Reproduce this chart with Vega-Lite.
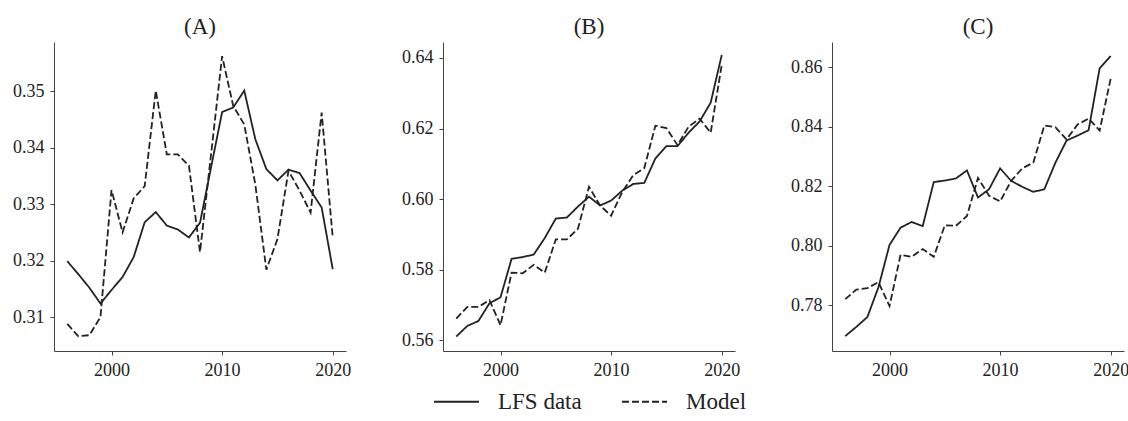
{
  "$schema": "https://vega.github.io/schema/vega-lite/v6.json",
  "padding": {"left": 12, "top": 16, "right": 5, "bottom": 5},
  "bounds": "flush",
  "spacing": 97,
  "data": {"values": [
    {"p":"A","year":1996,"s":"LFS data","v":0.3199},{"p":"A","year":1997,"s":"LFS data","v":0.3176},{"p":"A","year":1998,"s":"LFS data","v":0.3152},{"p":"A","year":1999,"s":"LFS data","v":0.3124},{"p":"A","year":2000,"s":"LFS data","v":0.3148},{"p":"A","year":2001,"s":"LFS data","v":0.3171},{"p":"A","year":2002,"s":"LFS data","v":0.3206},{"p":"A","year":2003,"s":"LFS data","v":0.3268},{"p":"A","year":2004,"s":"LFS data","v":0.3286},{"p":"A","year":2005,"s":"LFS data","v":0.3262},{"p":"A","year":2006,"s":"LFS data","v":0.3255},{"p":"A","year":2007,"s":"LFS data","v":0.3241},{"p":"A","year":2008,"s":"LFS data","v":0.3267},{"p":"A","year":2009,"s":"LFS data","v":0.3365},{"p":"A","year":2010,"s":"LFS data","v":0.3463},{"p":"A","year":2011,"s":"LFS data","v":0.3471},{"p":"A","year":2012,"s":"LFS data","v":0.3501},{"p":"A","year":2013,"s":"LFS data","v":0.3415},{"p":"A","year":2014,"s":"LFS data","v":0.3362},{"p":"A","year":2015,"s":"LFS data","v":0.3342},{"p":"A","year":2016,"s":"LFS data","v":0.3361},{"p":"A","year":2017,"s":"LFS data","v":0.3355},{"p":"A","year":2018,"s":"LFS data","v":0.3324},{"p":"A","year":2019,"s":"LFS data","v":0.3294},{"p":"A","year":2020,"s":"LFS data","v":0.3185},
    {"p":"A","year":1996,"s":"Model","v":0.3088},{"p":"A","year":1997,"s":"Model","v":0.3066},{"p":"A","year":1998,"s":"Model","v":0.3068},{"p":"A","year":1999,"s":"Model","v":0.3100},{"p":"A","year":2000,"s":"Model","v":0.3325},{"p":"A","year":2001,"s":"Model","v":0.3250},{"p":"A","year":2002,"s":"Model","v":0.3310},{"p":"A","year":2003,"s":"Model","v":0.3332},{"p":"A","year":2004,"s":"Model","v":0.3501},{"p":"A","year":2005,"s":"Model","v":0.3388},{"p":"A","year":2006,"s":"Model","v":0.3388},{"p":"A","year":2007,"s":"Model","v":0.3368},{"p":"A","year":2008,"s":"Model","v":0.3215},{"p":"A","year":2009,"s":"Model","v":0.3388},{"p":"A","year":2010,"s":"Model","v":0.3562},{"p":"A","year":2011,"s":"Model","v":0.3474},{"p":"A","year":2012,"s":"Model","v":0.3441},{"p":"A","year":2013,"s":"Model","v":0.3335},{"p":"A","year":2014,"s":"Model","v":0.3184},{"p":"A","year":2015,"s":"Model","v":0.3238},{"p":"A","year":2016,"s":"Model","v":0.3359},{"p":"A","year":2017,"s":"Model","v":0.3324},{"p":"A","year":2018,"s":"Model","v":0.3285},{"p":"A","year":2019,"s":"Model","v":0.3462},{"p":"A","year":2020,"s":"Model","v":0.3241},
    {"p":"B","year":1996,"s":"LFS data","v":0.5611},{"p":"B","year":1997,"s":"LFS data","v":0.5641},{"p":"B","year":1998,"s":"LFS data","v":0.5655},{"p":"B","year":1999,"s":"LFS data","v":0.5705},{"p":"B","year":2000,"s":"LFS data","v":0.5722},{"p":"B","year":2001,"s":"LFS data","v":0.5831},{"p":"B","year":2002,"s":"LFS data","v":0.5836},{"p":"B","year":2003,"s":"LFS data","v":0.5843},{"p":"B","year":2004,"s":"LFS data","v":0.5890},{"p":"B","year":2005,"s":"LFS data","v":0.5945},{"p":"B","year":2006,"s":"LFS data","v":0.5948},{"p":"B","year":2007,"s":"LFS data","v":0.5979},{"p":"B","year":2008,"s":"LFS data","v":0.6007},{"p":"B","year":2009,"s":"LFS data","v":0.5982},{"p":"B","year":2010,"s":"LFS data","v":0.5996},{"p":"B","year":2011,"s":"LFS data","v":0.6024},{"p":"B","year":2012,"s":"LFS data","v":0.6043},{"p":"B","year":2013,"s":"LFS data","v":0.6046},{"p":"B","year":2014,"s":"LFS data","v":0.6115},{"p":"B","year":2015,"s":"LFS data","v":0.6150},{"p":"B","year":2016,"s":"LFS data","v":0.6150},{"p":"B","year":2017,"s":"LFS data","v":0.6188},{"p":"B","year":2018,"s":"LFS data","v":0.6220},{"p":"B","year":2019,"s":"LFS data","v":0.6273},{"p":"B","year":2020,"s":"LFS data","v":0.6408},
    {"p":"B","year":1996,"s":"Model","v":0.5662},{"p":"B","year":1997,"s":"Model","v":0.5695},{"p":"B","year":1998,"s":"Model","v":0.5695},{"p":"B","year":1999,"s":"Model","v":0.5714},{"p":"B","year":2000,"s":"Model","v":0.5643},{"p":"B","year":2001,"s":"Model","v":0.5792},{"p":"B","year":2002,"s":"Model","v":0.5790},{"p":"B","year":2003,"s":"Model","v":0.5814},{"p":"B","year":2004,"s":"Model","v":0.5792},{"p":"B","year":2005,"s":"Model","v":0.5886},{"p":"B","year":2006,"s":"Model","v":0.5886},{"p":"B","year":2007,"s":"Model","v":0.5916},{"p":"B","year":2008,"s":"Model","v":0.6035},{"p":"B","year":2009,"s":"Model","v":0.5982},{"p":"B","year":2010,"s":"Model","v":0.5953},{"p":"B","year":2011,"s":"Model","v":0.6020},{"p":"B","year":2012,"s":"Model","v":0.6068},{"p":"B","year":2013,"s":"Model","v":0.6088},{"p":"B","year":2014,"s":"Model","v":0.6208},{"p":"B","year":2015,"s":"Model","v":0.6201},{"p":"B","year":2016,"s":"Model","v":0.6153},{"p":"B","year":2017,"s":"Model","v":0.6205},{"p":"B","year":2018,"s":"Model","v":0.6228},{"p":"B","year":2019,"s":"Model","v":0.6188},{"p":"B","year":2020,"s":"Model","v":0.6380},
    {"p":"C","year":1996,"s":"LFS data","v":0.7697},{"p":"C","year":1997,"s":"LFS data","v":0.7728},{"p":"C","year":1998,"s":"LFS data","v":0.7761},{"p":"C","year":1999,"s":"LFS data","v":0.7861},{"p":"C","year":2000,"s":"LFS data","v":0.8003},{"p":"C","year":2001,"s":"LFS data","v":0.8061},{"p":"C","year":2002,"s":"LFS data","v":0.8080},{"p":"C","year":2003,"s":"LFS data","v":0.8066},{"p":"C","year":2004,"s":"LFS data","v":0.8214},{"p":"C","year":2005,"s":"LFS data","v":0.8219},{"p":"C","year":2006,"s":"LFS data","v":0.8226},{"p":"C","year":2007,"s":"LFS data","v":0.8253},{"p":"C","year":2008,"s":"LFS data","v":0.8162},{"p":"C","year":2009,"s":"LFS data","v":0.8190},{"p":"C","year":2010,"s":"LFS data","v":0.8260},{"p":"C","year":2011,"s":"LFS data","v":0.8218},{"p":"C","year":2012,"s":"LFS data","v":0.8198},{"p":"C","year":2013,"s":"LFS data","v":0.8181},{"p":"C","year":2014,"s":"LFS data","v":0.8190},{"p":"C","year":2015,"s":"LFS data","v":0.8279},{"p":"C","year":2016,"s":"LFS data","v":0.8353},{"p":"C","year":2017,"s":"LFS data","v":0.8370},{"p":"C","year":2018,"s":"LFS data","v":0.8388},{"p":"C","year":2019,"s":"LFS data","v":0.8596},{"p":"C","year":2020,"s":"LFS data","v":0.8637},
    {"p":"C","year":1996,"s":"Model","v":0.7821},{"p":"C","year":1997,"s":"Model","v":0.7853},{"p":"C","year":1998,"s":"Model","v":0.7858},{"p":"C","year":1999,"s":"Model","v":0.7878},{"p":"C","year":2000,"s":"Model","v":0.7798},{"p":"C","year":2001,"s":"Model","v":0.7970},{"p":"C","year":2002,"s":"Model","v":0.7963},{"p":"C","year":2003,"s":"Model","v":0.7989},{"p":"C","year":2004,"s":"Model","v":0.7963},{"p":"C","year":2005,"s":"Model","v":0.8069},{"p":"C","year":2006,"s":"Model","v":0.8067},{"p":"C","year":2007,"s":"Model","v":0.8100},{"p":"C","year":2008,"s":"Model","v":0.8228},{"p":"C","year":2009,"s":"Model","v":0.8168},{"p":"C","year":2010,"s":"Model","v":0.8149},{"p":"C","year":2011,"s":"Model","v":0.8218},{"p":"C","year":2012,"s":"Model","v":0.8260},{"p":"C","year":2013,"s":"Model","v":0.8279},{"p":"C","year":2014,"s":"Model","v":0.8404},{"p":"C","year":2015,"s":"Model","v":0.8398},{"p":"C","year":2016,"s":"Model","v":0.8357},{"p":"C","year":2017,"s":"Model","v":0.8407},{"p":"C","year":2018,"s":"Model","v":0.8427},{"p":"C","year":2019,"s":"Model","v":0.8387},{"p":"C","year":2020,"s":"Model","v":0.8562}
  ]},
  "hconcat": [
    {
      "width": 292, "height": 309,
      "title": {"text": "(A)"},
      "transform": [{"filter": "datum.p == 'A'"}],
      "mark": {"type": "line", "strokeWidth": 1.8, "color": "#222"},
      "encoding": {
        "x": {"field": "year", "type": "quantitative", "title": null, "scale": {"domain": [1994.8, 2021.2], "nice": false, "zero": false}, "axis": {"values": [2000, 2010, 2020], "format": "d"}},
        "y": {"field": "v", "type": "quantitative", "title": null, "scale": {"domain": [0.3040, 0.3587], "nice": false, "zero": false}, "axis": {"values": [0.31, 0.32, 0.33, 0.34, 0.35], "format": ".2f"}},
        "strokeDash": {"field": "s", "type": "nominal", "scale": {"domain": ["LFS data", "Model"], "range": [[1, 0], [7, 3]]},
          "legend": {"title": null, "orient": "none", "legendX": 379, "legendY": 336, "direction": "horizontal", "symbolType": "stroke", "symbolSize": 2025, "symbolStrokeWidth": 1.8, "symbolStrokeColor": "#222", "labelFontSize": 23, "labelFont": "Liberation Serif", "labelOffset": 18, "columnPadding": 36, "labelColor": "#222", "padding": 0}}
      }
    },
    {
      "width": 292, "height": 309,
      "title": {"text": "(B)"},
      "transform": [{"filter": "datum.p == 'B'"}],
      "mark": {"type": "line", "strokeWidth": 1.8, "color": "#222"},
      "encoding": {
        "x": {"field": "year", "type": "quantitative", "title": null, "scale": {"domain": [1994.8, 2021.2], "nice": false, "zero": false}, "axis": {"values": [2000, 2010, 2020], "format": "d"}},
        "y": {"field": "v", "type": "quantitative", "title": null, "scale": {"domain": [0.5570, 0.6445], "nice": false, "zero": false}, "axis": {"values": [0.56, 0.58, 0.60, 0.62, 0.64], "format": ".2f"}},
        "strokeDash": {"field": "s", "type": "nominal", "scale": {"domain": ["LFS data", "Model"], "range": [[1, 0], [7, 3]]},
          "legend": {"title": null, "orient": "none", "legendX": 379, "legendY": 336, "direction": "horizontal", "symbolType": "stroke", "symbolSize": 2025, "symbolStrokeWidth": 1.8, "symbolStrokeColor": "#222", "labelFontSize": 23, "labelFont": "Liberation Serif", "labelOffset": 18, "columnPadding": 36, "labelColor": "#222", "padding": 0}}
      }
    },
    {
      "width": 292, "height": 309,
      "title": {"text": "(C)"},
      "transform": [{"filter": "datum.p == 'C'"}],
      "mark": {"type": "line", "strokeWidth": 1.8, "color": "#222"},
      "encoding": {
        "x": {"field": "year", "type": "quantitative", "title": null, "scale": {"domain": [1994.8, 2021.2], "nice": false, "zero": false}, "axis": {"values": [2000, 2010, 2020], "format": "d"}},
        "y": {"field": "v", "type": "quantitative", "title": null, "scale": {"domain": [0.7647, 0.8684], "nice": false, "zero": false}, "axis": {"values": [0.78, 0.80, 0.82, 0.84, 0.86], "format": ".2f"}},
        "strokeDash": {"field": "s", "type": "nominal", "scale": {"domain": ["LFS data", "Model"], "range": [[1, 0], [7, 3]]},
          "legend": {"title": null, "orient": "none", "legendX": 379, "legendY": 336, "direction": "horizontal", "symbolType": "stroke", "symbolSize": 2025, "symbolStrokeWidth": 1.8, "symbolStrokeColor": "#222", "labelFontSize": 23, "labelFont": "Liberation Serif", "labelOffset": 18, "columnPadding": 36, "labelColor": "#222", "padding": 0}}
      }
    }
  ],
  "config": {
    "view": {"stroke": null},
    "font": "Liberation Serif",
    "axis": {"grid": false, "domainColor": "#444", "tickColor": "#444", "labelColor": "#222", "labelFont": "Liberation Serif", "labelFontSize": 18, "tickSize": 4, "labelPadding": 6, "domainWidth": 1, "tickWidth": 1},
    "title": {"font": "Liberation Serif", "fontSize": 23, "fontWeight": "normal", "color": "#222", "anchor": "middle", "offset": 3}
  }
}
